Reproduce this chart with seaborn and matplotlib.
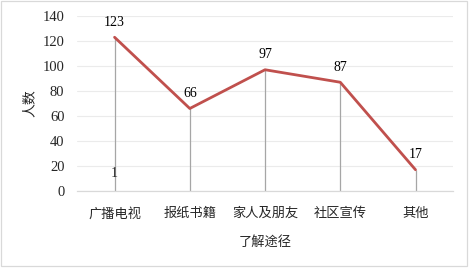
import pandas as pd
import matplotlib
matplotlib.use("Agg")
import matplotlib.pyplot as plt
from matplotlib.patches import Rectangle
import seaborn as sns

# --- データ ---
categories = ["广播电视", "报纸书籍", "家人及朋友", "社区宣传", "其他"]
counts = [123, 66, 97, 87, 17]
y_ticks = [0, 20, 40, 60, 80, 100, 120, 140]
stray_label = "1"      # 元の図にある余分なラベル
stray_value = 14

LINE_COLOR = "#C0504D"
FONTS = ["Liberation Serif", "Noto Sans CJK SC", "DejaVu Sans"]

sns.set_style("white")
plt.rcParams["font.family"] = FONTS

df = pd.DataFrame({"途径": categories, "人数": counts})
df["pos"] = range(len(df))

fig = plt.figure(figsize=(4.72, 2.69), dpi=100)
ax = fig.add_axes([0.163, 0.290, 0.797, 0.6505])

# 垂直線（点から底まで）
ax.vlines(df["pos"], 0, df["人数"], color="#A6A6A6", lw=0.9, zorder=1)

sns.lineplot(data=df, x="pos", y="人数", color=LINE_COLOR, lw=2.0, ax=ax, zorder=3)

for p, v in zip(df["pos"], df["人数"]):
    ax.text(p, v + 7, str(v), ha="center", va="bottom", fontsize=10, color="black")
ax.text(0, stray_value, stray_label, ha="center", va="center", fontsize=10)

ax.set_xlim(-0.5, len(categories) - 0.5)
ax.set_ylim(0, 140)
ax.set_yticks(y_ticks)
ax.set_xticks(df["pos"])
ax.set_xticklabels(categories)
ax.yaxis.grid(True, color="#EBEBEB", lw=0.8)
ax.set_axisbelow(True)
for side in ["top", "right", "left"]:
    ax.spines[side].set_visible(False)
ax.spines["bottom"].set_color("#D9D9D9")
ax.spines["bottom"].set_linewidth(0.9)
ax.tick_params(axis="both", length=0, labelsize=10, pad=9)
ax.tick_params(axis="x", labelsize=9.5, pad=12)
for lbl in ax.get_yticklabels():
    lbl.set_fontsize(10.5)

ax.set_xlabel("了解途径", fontsize=9.5, labelpad=11)
ax.set_ylabel("人数", fontsize=10, labelpad=4)

# 外枠
fig.patches.append(Rectangle((0.003, 0.012), 0.987, 0.983, transform=fig.transFigure,
                             fill=False, edgecolor="#D9D9D9", lw=0.9))

fig.savefig("out.png", dpi=100)
